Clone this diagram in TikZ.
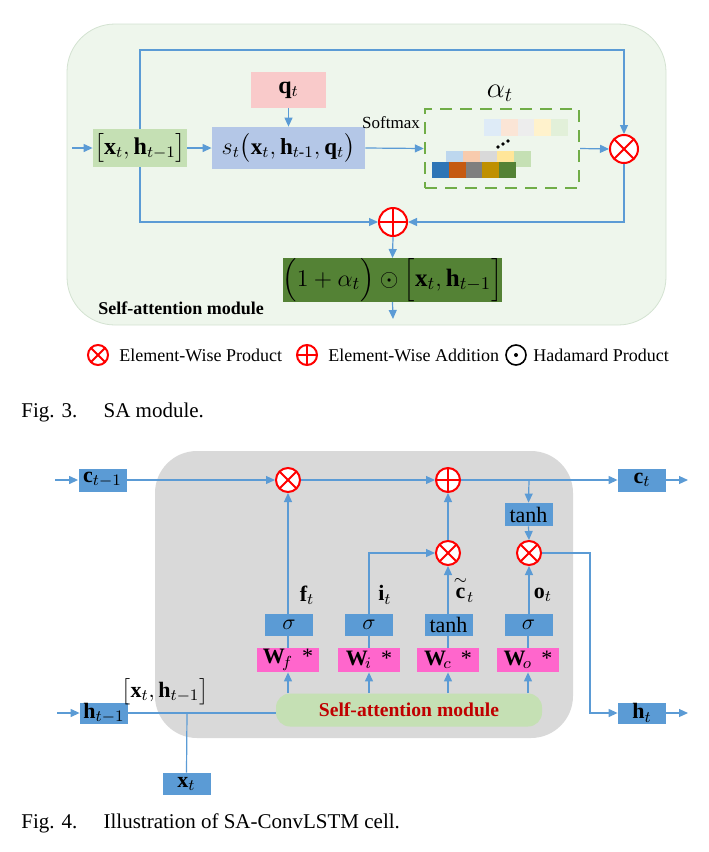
\documentclass[tikz,border=0pt]{standalone}
\usepackage{amsmath}
\usepackage{fontspec}
\setmainfont{Liberation Serif}
\usetikzlibrary{arrows.meta}

\definecolor{lnblue}{HTML}{5B9BD5}
\definecolor{boxblue}{HTML}{5B9BD5}
\definecolor{wpink}{HTML}{FF66CC}
\definecolor{cellgray}{HTML}{D9D9D9}
\definecolor{sagreen}{HTML}{C5E0B4}
\definecolor{sared}{HTML}{C00000}
\definecolor{catgreen}{HTML}{C5E0B4}
\definecolor{scoreblue}{HTML}{B4C7E7}
\definecolor{qpink}{HTML}{F9CACA}
\definecolor{bggreen}{HTML}{EEF6EC}
\definecolor{bgedge}{HTML}{D3E2D1}
\definecolor{dkgreen}{HTML}{548235}
\definecolor{dashgreen}{HTML}{70AD47}

\begin{document}
\begin{tikzpicture}[x=0.5pt,y=-0.5pt,
    line/.style={draw=lnblue,line width=0.6pt},
    arr/.style={line,-{Triangle[length=4.5pt,width=4pt]}},
    cellbox/.style={fill=boxblue,minimum width=24pt,minimum height=11.5pt,inner sep=0pt,font=\fontsize{11}{13}\selectfont},
    wbox/.style={fill=wpink,minimum width=31pt,minimum height=12pt,inner sep=0pt,font=\fontsize{11}{13}\selectfont},
    gatelab/.style={inner sep=0.5pt,font=\fontsize{11}{13}\selectfont},
    mulop/.style={circle,draw=red,fill=white,line width=1pt,inner sep=0pt,
        path picture={\draw[red,line width=1pt] (path picture bounding box.north west) -- (path picture bounding box.south east)
            (path picture bounding box.north east) -- (path picture bounding box.south west);}},
    addop/.style={circle,draw=red,fill=white,line width=1pt,inner sep=0pt,
        path picture={\draw[red,line width=1pt] (path picture bounding box.north) -- (path picture bounding box.south)
            (path picture bounding box.east) -- (path picture bounding box.west);}},
    hadop/.style={circle,draw=black,fill=white,line width=0.8pt,inner sep=0pt,
        path picture={\fill[black] (path picture bounding box.center) circle (1pt);}},
    leg/.style={anchor=west,inner sep=0pt,font=\fontsize{9}{11}\selectfont},
    caption/.style={anchor=west,inner sep=0pt,font=\fontsize{10.5}{12}\selectfont}]
\useasboundingbox (0,0) rectangle (708,852);

% ---------- Fig. 3: SA module ----------
\draw[fill=bggreen,draw=bgedge,rounded corners=24pt] (67,24) rectangle (666,325);
\node[anchor=west,inner sep=0pt,font=\fontsize{9}{11}\selectfont\bfseries] (satitle) at (98,308) {Self-attention module};

\node[fill=catgreen,minimum width=47pt,minimum height=19pt,inner sep=0pt,font=\fontsize{12}{14}\selectfont] (cat) at (140,148) {$\bigl[\mathbf{x}_t,\mathbf{h}_{t-1}\bigr]$};
\node[fill=scoreblue,minimum width=76.5pt,minimum height=21pt,inner sep=0pt,font=\fontsize{11.5}{14}\selectfont] (score) at (288.5,148) {$s_t\bigl(\mathbf{x}_t,\mathbf{h}_{t\text{-}1},\mathbf{q}_t\bigr)$};
\node[fill=qpink,minimum width=37.5pt,minimum height=18pt,inner sep=0pt,font=\fontsize{12}{14}\selectfont] (q) at (288.5,90) {$\mathbf{q}_t$};
\node[draw=dashgreen,dash pattern=on 6pt off 4pt,line width=1.2pt,minimum width=77pt,minimum height=39.5pt,inner sep=0pt] (att) at (502,148.5) {};
\node[font=\fontsize{14}{16}\selectfont] (alab) at (500,93) {$\alpha_t$};
\node[font=\fontsize{8.5}{10}\selectfont,inner sep=0pt] (soft) at (391,123) {Softmax};

% attention maps
\foreach \c [count=\i from 0] in {DEEBF7,FBE5D6,EDEDED,FFF2CC,E2F0D9}{
    \definecolor{sq}{HTML}{\c}
    \fill[sq] (484+\i*16.8,119) rectangle ++(16.8,17);
}
\foreach \c [count=\i from 0] in {BDD7EE,F8CBAD,D9D9D9,FFE699,C5E0B4}{
    \definecolor{sq}{HTML}{\c}
    \fill[sq] (446+\i*17,151) rectangle ++(17,16);
}
\foreach \c [count=\i from 0] in {2E75B6,C55A11,7F7F7F,BF9000,548235}{
    \definecolor{sq}{HTML}{\c}
    \fill[sq] (432+\i*16.8,162) rectangle ++(16.8,16);
}
\foreach \p in {(498,147),(503,144),(508,141)}
    \fill \p circle (0.9pt);

\node[mulop,minimum size=14pt] (mulA) at (624,149) {};
\node[addop,minimum size=14pt] (addA) at (393,222) {};
\node[fill=dkgreen,minimum width=104.5pt,minimum height=21pt,inner sep=0pt,font=\fontsize{12.5}{14}\selectfont] (out) at (392.5,280) {$\Bigl(1+\alpha_t\Bigr)\odot\Bigl[\mathbf{x}_t,\mathbf{h}_{t-1}\Bigr]$};
\coordinate (inA) at (72,148);
\coordinate (topA) at (140,50);
\coordinate (endA) at (393,319);

\draw[arr] (inA) -- (cat.west);
\draw[arr] (cat.east) -- (score.west);
\draw[arr] (q.south) -- (score.north);
\draw[arr] (score.east) -- (att.west);
\draw[arr] (att.east) -- (mulA.west);
\draw[arr] (cat.north) -- (topA) -| (mulA.north);
\draw[arr] (cat.south) |- (addA.west);
\draw[arr] (mulA.south) |- (addA.east);
\draw[arr] (addA.south) -- (out.north);
\draw[arr] (out.south) -- (endA);

% legend
\node[mulop,minimum size=10pt] (lmul) at (98,355) {};
\node[leg] (lmultxt) at (119,355) {Element-Wise Product};
\node[addop,minimum size=10pt] (ladd) at (307,355) {};
\node[leg] (laddtxt) at (328,355) {Element-Wise Addition};
\node[hadop,minimum size=10pt] (lhad) at (516,355) {};
\node[leg] (lhadtxt) at (533,355) {Hadamard Product};

\node[caption] (capA) at (21,412) {Fig. 3.\hspace{1.25em}SA module.};

% ---------- Fig. 4: SA-ConvLSTM cell ----------
\fill[cellgray,rounded corners=21pt] (155,451) rectangle (573,738);

\node[cellbox] (cprev) at (102.5,480) {$\mathbf{c}_{t-1}$};
\node[cellbox] (cnext) at (642,480) {$\mathbf{c}_t$};
\node[cellbox,minimum height=10.5pt] (hprev) at (104,713) {$\mathbf{h}_{t-1}$};
\node[cellbox,minimum height=10.5pt] (hnext) at (642,713) {$\mathbf{h}_t$};
\node[cellbox,minimum height=11pt] (xt) at (186.5,784) {$\mathbf{x}_t$};

\node[mulop,minimum size=12pt] (fmul) at (288,480) {};
\node[addop,minimum size=12pt] (cadd) at (448,480) {};
\node[mulop,minimum size=12pt] (imul) at (448,553) {};
\node[mulop,minimum size=12pt] (omul) at (529,553) {};
\node[cellbox] (ctanh) at (528.5,514.5) {tanh};

\node[cellbox,minimum height=11pt] (fsig) at (289,625) {$\sigma$};
\node[cellbox,minimum height=11pt] (isig) at (369,625) {$\sigma$};
\node[cellbox,minimum height=11pt] (gtanh) at (448.5,625) {tanh};
\node[cellbox,minimum height=11pt] (osig) at (528.5,625) {$\sigma$};

\node[wbox] (wf) at (288,660) {$\mathbf{W}_{\!f}$\ \,*};
\node[wbox] (wi) at (369,660) {$\mathbf{W}_{\!i}$\ \,*};
\node[wbox] (wc) at (448,660) {$\mathbf{W}_{\!c}$\ \,*};
\node[wbox] (wo) at (528,660) {$\mathbf{W}_{\!o}$\ \,*};

\node[fill=sagreen,rounded corners=7pt,minimum width=133pt,minimum height=16.5pt,inner sep=0pt,
    font=\fontsize{9.8}{12}\selectfont\bfseries,text=sared] (sam) at (409,710) {Self-attention module};

\node[gatelab] (flab) at (307,595) {$\mathbf{f}_t$};
\node[gatelab] (ilab) at (385,595) {$\mathbf{i}_t$};
\node[gatelab] (glab) at (464,589) {$\overset{\sim}{\mathbf{c}}_t$};
\node[gatelab] (olab) at (543,595) {$\mathbf{o}_t$};
\node[gatelab] (catlab) at (165,692) {$\bigl[\mathbf{x}_t,\mathbf{h}_{t-1}\bigr]$};

\coordinate (cin) at (55,480);
\coordinate (cout) at (688,480);
\coordinate (hin) at (57,713);
\coordinate (hout) at (688,713);
\coordinate (ctap) at (529,480);
\coordinate (hcorner) at (590,713);
\coordinate (xjoin) at (187,713);

\draw[arr] (cin) -- (cprev.west);
\draw[arr] (cprev.east) -- (fmul.west);
\draw[arr] (fmul.east) -- (cadd.west);
\draw[arr] (cadd.east) -- (cnext.west);
\draw[arr] (cnext.east) -- (cout);
\draw[arr] (ctap) -- (ctanh.north);
\draw[arr] (ctanh.south) -- (omul.north);
\draw[arr] (fsig.north -| fmul) -- (fmul.south);
\draw[arr] (isig.north) |- (imul.west);
\draw[arr] (gtanh.north -| imul) -- (imul.south);
\draw[arr] (imul.north) -- (cadd.south);
\draw[arr] (osig.north -| omul) -- (omul.south);
\draw[arr] (omul.east) -| (hcorner) -- (hnext.west);
\draw[arr] (hnext.east) -- (hout);
\draw[arr] (hin) -- (hprev.west);
\draw[line] (hprev.east) -- (hprev.east -| sam.west);
\draw[line] (xt.north) -- (xjoin);
\foreach \g in {f,i,c,o}{
    \draw[arr] (sam.north -| w\g) -- (w\g.south);
}
\draw[line] (wf.north) -- (wf.north |- fsig.south);
\draw[line] (wi.north) -- (wi.north |- isig.south);
\draw[line] (wc.north) -- (wc.north |- gtanh.south);
\draw[line] (wo.north) -- (wo.north |- osig.south);

\node[caption] (capB) at (21,823) {Fig. 4.\hspace{1.25em}Illustration of SA-ConvLSTM cell.};
\end{tikzpicture}
\end{document}
